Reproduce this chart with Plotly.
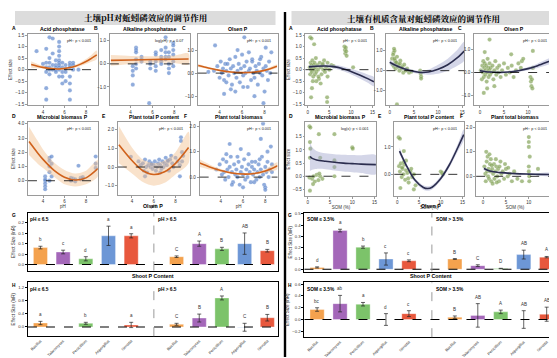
import plotly.graph_objects as go

W, H = 557, 358

# ---------------- data: left half (soil pH) ----------------
ph_acid_x = [3.4, 4.0, 4.3, 4.3, 4.3, 4.3, 4.3, 4.3, 4.6, 4.6, 4.6, 4.6, 4.6, 4.6, 4.9, 4.9, 4.9, 4.9,
             5.2, 5.2, 5.2, 5.2, 5.2, 5.5, 5.5, 5.5, 5.5, 5.5, 5.5, 5.5, 5.5, 5.5, 5.5, 5.8, 5.8, 5.8, 5.8, 5.8,
             6.1, 6.1, 6.1, 6.1, 6.5, 6.5, 6.5, 6.5, 6.5, 6.5, 6.5, 6.8, 6.8, 6.8, 7.3]
ph_acid_y = [0.8, 0.25, 0.9, 0.3, 0.1, -0.1, -0.8, -1.3, 1.4, 0.5, 0.3, 0.1, 0.0, -0.2, 1.35, 0.7, 0.2, 0.0,
             0.4, 0.2, 0.1, 0.0, -0.1, 1.2, 1.0, 0.8, 0.6, 0.4, 0.3, 0.2, 0.1, 0.0, -0.3, 0.3, 0.1, -0.1, -0.3, -0.6,
             0.2, 0.05, -0.1, -0.5, 0.3, 0.2, 0.1, -0.3, -0.6, -0.9, -1.3, 0.3, 0.2, 0.0, 0.0]
ph_acid_fx = [2.9, 3.5, 4.0, 4.5, 5.0, 5.5, 6.0, 6.5, 7.0, 7.5, 8.0, 8.5, 9.0]
ph_acid_fy = [0.22, 0.15, 0.10, 0.06, 0.04, 0.03, 0.05, 0.09, 0.15, 0.24, 0.35, 0.49, 0.64]
ph_acid_lo = [0.08, 0.06, 0.04, 0.01, -0.01, -0.02, 0.0, 0.04, 0.09, 0.16, 0.24, 0.34, 0.45]
ph_acid_hi = [0.36, 0.24, 0.16, 0.11, 0.09, 0.08, 0.10, 0.14, 0.21, 0.32, 0.46, 0.64, 0.83]

ph_alk_x = [4.2, 4.2, 4.2, 4.2, 4.5, 4.5, 4.5, 4.5, 4.5, 4.5, 5.0, 5.0, 5.0, 5.7, 5.8, 5.8, 5.8,
            6.3, 6.3, 6.3, 6.3, 6.3, 6.8, 6.8, 6.8, 6.8, 6.8, 7.2, 7.2, 7.2, 7.2, 7.2,
            7.5, 7.5, 7.5, 7.5, 7.5, 7.9, 7.9, 7.9, 7.9, 7.9, 7.9]
ph_alk_y = [-0.3, -0.5, -0.9, -0.1, 0.7, 0.6, 0.5, 0.2, 0.0, -0.2, 0.3, 0.2, 0.1, -1.7, 0.1, 0.0, -0.2,
            0.5, 0.4, 0.1, -0.1, -0.3, 0.6, 0.3, 0.2, 0.1, 0.0, 1.15, 0.7, 0.5, 0.3, 0.2,
            0.5, 0.3, 0.0, -0.2, -0.4, 0.9, 0.8, 0.6, 0.4, 0.1, -0.1]
ph_alk_fx = [2.2, 4.0, 6.0, 8.0, 9.3]
ph_alk_fy = [0.15, 0.17, 0.19, 0.20, 0.21]
ph_alk_lo = [-0.08, 0.0, 0.05, 0.04, -0.03]
ph_alk_hi = [0.38, 0.34, 0.33, 0.36, 0.45]

ph_olsen_x = [3.0, 3.5, 3.8, 4.0, 4.1, 4.2, 4.3, 4.4, 4.5, 4.6, 4.7, 4.8, 4.9, 5.0, 5.1, 5.2, 5.3, 5.4, 5.5, 5.6,
              5.7, 5.8, 5.9, 6.0, 6.1, 6.2, 6.3, 6.4, 6.5, 6.6, 6.7, 6.8, 6.9, 7.0, 7.1, 7.2, 7.3, 7.4, 7.5, 7.6,
              7.7, 7.8, 7.9, 8.0, 8.1, 8.2, 8.3, 8.4, 8.5, 8.6, 4.4, 5.0, 5.6, 6.1, 6.6, 7.1, 7.6, 8.1, 4.6, 6.9,
              6.2, 3.6, 7.9, 5.4]
ph_olsen_y = [0.05, 0.1, 0.3, -0.2, 0.5, 0.0, 0.2, -0.3, 0.4, 0.1, 0.4, -0.1, 0.6, 0.2, -0.5, 0.3, 0.0, 0.7, -0.2, 0.1,
              0.4, -0.4, 0.2, 0.8, -0.1, 0.3, 0.0, 0.5, -0.6, 0.1, 0.2, -0.3, 0.6, 0.0, -0.2, 0.3, 0.1, -0.5, 0.4, 0.0,
              0.7, -0.1, 0.2, -0.8, 0.3, 0.1, -0.3, 0.5, 0.0, 0.9, -0.9, -0.7, 1.0, -0.6, 0.9, -1.0, 0.6, 1.1, -0.4, 0.5,
              1.55, 1.2, -1.3, -0.8]
ph_olsen_fx = [2.1, 3.0, 4.0, 5.0, 6.0, 7.0, 8.0, 9.1]
ph_olsen_fy = [0.33, 0.22, 0.12, 0.05, 0.02, 0.04, 0.12, 0.30]
ph_olsen_lo = [0.26, 0.17, 0.09, 0.02, -0.01, 0.01, 0.08, 0.23]
ph_olsen_hi = [0.40, 0.27, 0.15, 0.08, 0.05, 0.07, 0.16, 0.37]

ph_mbp_x = [4.2, 4.2, 4.2, 4.2, 4.2, 4.2, 4.6, 4.6, 4.6, 4.6, 4.6, 4.8, 4.8, 4.8,
            6.6, 6.6, 6.6, 6.8, 6.8, 7.0, 7.0, 7.3, 7.5, 7.5, 7.7, 7.7, 8.9, 8.9, 8.9]
ph_mbp_y = [0.3, 0.1, 0.0, -0.2, -0.4, -0.6, 1.6, 1.4, 1.0, 0.6, 0.0, 1.7, 1.2, 0.3,
            0.2, 0.1, 0.0, 0.15, 0.05, 0.1, -0.05, 1.05, 0.2, 0.1, 0.25, 0.15, 1.7, 1.2, 0.9]
ph_mbp_fx = [2.7, 3.5, 4.0, 5.0, 6.0, 7.0, 8.0, 9.1]
ph_mbp_fy = [2.75, 1.95, 1.5, 0.75, 0.25, 0.05, 0.2, 0.85]
ph_mbp_lo = [1.8, 1.2, 0.9, 0.3, -0.25, -0.4, -0.25, 0.3]
ph_mbp_hi = [3.8, 2.8, 2.2, 1.3, 0.75, 0.5, 0.7, 1.45]

ph_tp_x = [3.9, 4.6, 4.8, 5.0, 5.1, 5.2, 5.3, 5.4, 5.5, 5.6, 5.7, 5.8, 5.9, 6.0, 6.1, 6.2, 6.3, 6.4, 6.5, 6.6, 6.7,
           6.8, 6.9, 7.0, 7.1, 7.2, 7.3, 7.4, 7.5, 7.6, 7.7, 7.8, 8.0, 8.2, 8.4, 8.5, 8.5, 8.6, 8.6, 8.7, 8.4,
           5.2, 5.8, 6.6, 7.3]
ph_tp_y = [0.55, 0.3, 0.1, 0.2, -0.2, 0.4, 0.0, -0.3, 0.1, 0.3, 0.0, 0.2, -0.1, 0.1, 0.3, -0.2, 0.0, 0.2, 0.4, 0.1, -0.1,
           0.3, 0.0, 0.2, 0.5, 0.1, 0.3, -0.2, 0.4, 0.6, 0.2, 0.0, 0.5, 0.3, 0.1, 1.6, 1.4, 0.8, 0.3, 0.6, -0.5,
           -0.5, 0.15, -0.3, 0.35]
ph_tp_fx = [2.8, 4.0, 5.0, 6.0, 7.0, 8.0, 9.2]
ph_tp_fy = [1.2, 0.35, -0.2, -0.4, -0.25, 0.2, 1.05]
ph_tp_lo = [0.2, -0.35, -0.8, -1.0, -0.85, -0.4, 0.2]
ph_tp_hi = [2.2, 1.05, 0.4, 0.2, 0.35, 0.8, 1.9]

ph_bio_x = [3.6, 3.9, 4.1, 4.2, 4.3, 4.4, 4.5, 4.6, 4.7, 4.8, 4.9, 5.0, 5.1, 5.2, 5.3, 5.4, 5.5, 5.6, 5.7, 5.8,
            5.9, 6.0, 6.1, 6.2, 6.3, 6.4, 6.5, 6.6, 6.7, 6.8, 6.9, 7.0, 7.1, 7.2, 7.3, 7.4, 7.5, 7.6, 7.7, 7.8,
            7.9, 8.0, 8.1, 8.2, 8.3, 8.4, 8.5, 8.6, 4.5, 5.0, 5.5, 6.0, 6.5, 7.0, 7.5, 8.0, 4.8, 5.8, 6.8, 7.8,
            8.2, 8.6, 8.0, 7.6]
ph_bio_y = [0.3, 0.5, 0.1, 0.7, 0.2, -0.1, 0.6, 0.3, 0.0, 0.4, 0.8, 0.2, -0.2, 0.5, 0.1, 0.3, 0.0, 0.6, -0.3, 0.2,
            0.4, 0.1, 0.7, -0.1, 0.3, 0.0, 0.5, 0.2, -0.2, 0.4, 0.1, 0.3, 0.6, -0.1, 0.2, 0.5, 0.0, 0.3, 0.8, 0.1,
            -0.3, 0.4, 0.2, 0.6, 0.0, 0.3, 1.2, 0.5, 0.9, -0.3, 0.8, -0.4, 0.9, -0.2, 0.7, -0.4, 1.3, 1.1, 0.6, 2.1,
            1.0, 0.2, -0.5, 1.5]
ph_bio_fx = [2.1, 3.0, 4.0, 5.0, 6.0, 7.0, 8.0, 9.1]
ph_bio_fy = [0.55, 0.40, 0.26, 0.16, 0.12, 0.14, 0.24, 0.45]
ph_bio_lo = [0.40, 0.30, 0.20, 0.12, 0.08, 0.10, 0.17, 0.32]
ph_bio_hi = [0.70, 0.50, 0.32, 0.20, 0.16, 0.18, 0.31, 0.58]

# ---------------- data: right half (soil organic matter) ----------------
som_acid_x = [0.5, 0.6, 0.7, 0.8, 0.9, 1.0, 1.1, 1.2, 1.3, 1.4, 1.5, 1.6, 1.7, 1.8, 1.9, 2.0, 2.2, 2.4, 2.6, 2.8,
              3.0, 3.2, 3.4, 3.6, 3.8, 4.0, 4.3, 4.6, 5.0, 5.5, 0.6, 0.8, 1.0, 1.5, 2.0, 3.0, 4.5, 4.5, 4.6,
              8.5, 8.6, 8.7, 8.8, 8.9, 9.0, 10.5, 6.0, 1.2, 0.9, 2.5, 3.5]
som_acid_y = [0.1, -0.2, 0.3, 0.0, 0.2, -0.1, 0.4, 0.1, -0.3, 0.2, 0.0, 0.3, -0.2, 0.1, 0.5, -0.1, 0.2, 0.0, -0.4, 0.3,
              0.1, -0.2, 0.2, 0.0, 0.4, -0.1, 0.1, 0.3, 0.0, 0.2, 1.4, -1.2, -0.8, 1.1, -0.5, -0.6, -1.2, -1.4, -0.3,
              1.0, 0.85, 0.7, 0.95, 0.8, 0.6, 0.1, 0.15, -0.5, 1.35, -0.3, 0.25]
som_acid_fx = [0.3, 2, 4, 6, 8, 10, 12, 14, 15.3]
som_acid_fy = [0.12, 0.15, 0.16, 0.13, 0.05, -0.08, -0.23, -0.40, -0.52]
som_acid_lo = [0.04, 0.10, 0.10, 0.05, -0.05, -0.20, -0.38, -0.58, -0.72]
som_acid_hi = [0.20, 0.20, 0.22, 0.21, 0.15, 0.04, -0.08, -0.22, -0.32]

som_alk_x = [0.5, 0.6, 0.8, 0.9, 1.0, 1.1, 1.2, 1.4, 1.5, 1.6, 1.8, 2.0, 2.2, 2.4, 2.6, 2.8, 3.0, 3.3, 3.6, 4.0,
             0.7, 1.0, 1.3, 1.7, 2.1, 2.5, 3.5, 4.5, 6.3, 6.4, 6.5, 6.5, 1.5, 0.9]
som_alk_y = [0.6, 0.3, 0.9, 0.2, 1.0, 0.5, 0.1, 0.4, 0.7, 0.2, 0.3, 0.0, 0.5, 0.1, 0.2, -0.1, 0.3, 0.0, 0.1, -0.1,
             0.8, 0.6, 0.4, 0.2, 0.35, 0.15, 0.05, -0.05, 0.0, -0.15, -0.3, -0.4, -1.7, 1.1]
som_alk_fx = [0, 2, 4, 6, 8, 10, 12, 14, 15.4]
som_alk_fy = [0.42, 0.18, 0.02, -0.08, -0.07, 0.07, 0.30, 0.65, 0.98]
som_alk_lo = [0.30, 0.10, -0.05, -0.16, -0.20, -0.15, 0.0, 0.25, 0.50]
som_alk_hi = [0.55, 0.26, 0.10, 0.0, 0.06, 0.30, 0.60, 1.05, 1.45]

som_olsen_x = [0.2, 0.4, 0.5, 0.6, 0.7, 0.8, 0.9, 1.0, 1.1, 1.2, 1.3, 1.4, 1.5, 1.6, 1.7, 1.8, 1.9, 2.0, 2.1, 2.2,
               2.4, 2.6, 2.8, 3.0, 3.2, 3.4, 3.6, 3.8, 4.0, 4.3, 4.6, 5.0, 5.4, 5.8, 6.2, 6.6, 7.0, 7.5, 8.0, 8.5,
               8.7, 9.0, 10.5, 10.6, 10.7, 10.8, 10.9, 11.0, 11.0, 11.0, 2.0, 1.5, 3.0, 0.8, 6.5, 1.0]
som_olsen_y = [0.1, -0.3, 0.3, 0.0, 0.5, -0.2, 0.2, 0.4, -0.1, 0.1, 0.3, -0.4, 0.0, 0.6, 0.2, -0.2, 0.1, 0.4, -0.1, 0.2,
               0.0, 0.3, -0.3, 0.1, 0.5, -0.1, 0.2, 0.0, 0.3, -0.2, 0.1, 0.4, -0.1, 0.2, 0.0, 0.3, -0.2, 0.1, 0.4, 0.2,
               0.5, 0.6, -0.2, -0.4, -0.6, -0.3, -0.7, 0.2, 0.95, -1.55, 1.45, -0.7, -0.6, -0.9, 0.8, 0.9]
som_olsen_fx = [0, 2, 4, 6, 8, 10, 12, 14, 15.3]
som_olsen_fy = [0.08, 0.02, 0.0, 0.02, 0.08, 0.17, 0.30, 0.46, 0.57]
som_olsen_lo = [0.02, -0.02, -0.04, -0.02, 0.03, 0.10, 0.20, 0.33, 0.42]
som_olsen_hi = [0.14, 0.06, 0.04, 0.06, 0.13, 0.24, 0.40, 0.59, 0.72]

som_mbp_x = [0.4, 0.6, 0.5, 0.6, 0.5, 0.4, 0.5, 1.0, 1.3, 1.6, 2.0, 2.4, 2.8, 3.3, 1.2, 2.6,
             2.5, 2.8, 6.0, 6.0, 6.0, 6.0, 10.0, 10.1]
som_mbp_y = [1.9, 1.85, 1.3, 1.05, 0.7, -0.05, -0.55, -0.1, 0.0, -0.2, 0.05, -0.15, 0.0, -0.1, -0.3, 0.1,
             1.6, 0.7, 1.6, 0.6, 0.35, 0.0, 1.1, 1.05]
som_mbp_fx = [0.5, 1, 2, 4, 6, 8, 10, 12, 15.3]
som_mbp_fy = [0.75, 0.68, 0.62, 0.57, 0.53, 0.50, 0.48, 0.46, 0.44]
som_mbp_lo = [0.20, 0.25, 0.28, 0.27, 0.22, 0.18, 0.15, 0.12, 0.08]
som_mbp_hi = [1.30, 1.10, 0.96, 0.87, 0.84, 0.82, 0.81, 0.80, 0.80]

som_tp_x = [0.3, 0.6, 1.5, 2.0, 0.4, 0.6, 0.8, 1.0, 1.2, 1.4, 1.6, 1.8, 2.0, 2.3, 2.6, 3.0, 3.4, 3.8, 4.2,
            0.7, 1.1, 1.5, 2.5, 3.2, 10.0, 10.3, 10.5, 3.8]
som_tp_y = [1.35, 1.3, 0.85, 0.5, 0.3, 0.1, 0.4, -0.1, 0.2, 0.0, 0.35, -0.2, 0.15, 0.05, -0.3, 0.1, -0.1, 0.0, -0.4,
            -0.5, 0.25, 0.45, -0.15, 0.2, 0.1, 0.05, 0.0, -0.55]
som_tp_fx = [0.5, 2, 4, 6, 7, 8, 10, 12, 14, 15.3]
som_tp_fy = [0.85, 0.35, -0.20, -0.48, -0.52, -0.47, -0.15, 0.35, 1.0, 1.45]
som_tp_lo = [0.73, 0.27, -0.27, -0.56, -0.60, -0.55, -0.23, 0.25, 0.86, 1.25]
som_tp_hi = [0.97, 0.43, -0.13, -0.40, -0.44, -0.39, -0.07, 0.45, 1.14, 1.65]

som_bio_x = [0.3, 0.5, 0.6, 0.8, 0.9, 1.0, 1.1, 1.2, 1.3, 1.5, 1.6, 1.7, 1.8, 2.0, 2.2, 2.4, 2.5, 2.7, 2.9, 3.1,
             3.3, 3.5, 3.8, 4.0, 4.3, 4.6, 5.0, 5.4, 5.8, 6.3, 0.7, 1.4, 2.1, 2.8, 3.6, 4.8, 6.8, 7.5,
             10.0, 10.0, 10.0, 10.0, 10.0, 10.1, 10.1, 10.2, 0.5, 1.9, 3.0, 12.0, 8.5, 5.5]
som_bio_y = [0.4, 0.1, -0.2, 0.6, 0.2, 0.8, 0.0, 0.3, -0.1, 0.5, 0.2, 0.7, -0.2, 0.3, 0.1, 0.5, -0.1, 0.2, 0.4, 0.0,
             0.3, -0.2, 0.6, 0.1, 0.2, -0.1, 0.3, 0.0, 0.1, -0.2, 1.0, 0.9, -0.3, 0.7, 0.4, 0.5, 0.2, -0.1,
             1.6, 1.4, 1.2, 0.4, 0.2, 0.0, -0.2, 0.8, 2.3, 0.45, -0.25, 0.3, -0.2, 0.35]
som_bio_fx = [0.2, 1, 2, 4, 6, 8, 10, 12, 15.3]
som_bio_fy = [0.32, 0.25, 0.20, 0.15, 0.12, 0.10, 0.09, 0.08, 0.07]
som_bio_lo = [0.25, 0.20, 0.16, 0.12, 0.09, 0.07, 0.05, 0.03, 0.01]
som_bio_hi = [0.39, 0.30, 0.24, 0.18, 0.15, 0.13, 0.13, 0.13, 0.13]

# ---------------- data: bar panels ----------------
genera = ["Bacillus", "Talaromyces", "Penicillium", "Aspergillus", "Serratia"]
bar_colors = ["#F4A24E", "#A467B9", "#7CC36A", "#6D97D6", "#E8583D"]

ph_low_olsen = [0.065, 0.048, 0.022, 0.110, 0.110]
ph_low_olsen_err = [0.005, 0.007, 0.008, 0.037, 0.008]
ph_low_olsen_let = ["b", "c", "d", "a", "a"]
ph_high_olsen = [0.030, 0.080, 0.060, 0.080, 0.053]
ph_high_olsen_err = [0.003, 0.010, 0.006, 0.041, 0.005]
ph_high_olsen_let = ["C", "A", "B", "AB", "B"]

ph_low_shoot = [0.12, None, 0.11, None, 0.06]
ph_low_shoot_err = [0.05, 0, 0.03, 0, 0.08]
ph_low_shoot_let = ["a", "", "b", "", "a"]
ph_high_shoot = [0.08, 0.27, 0.88, -0.01, 0.28]
ph_high_shoot_err = [0.03, 0.12, 0.06, 0.12, 0.10]
ph_high_shoot_let = ["C", "B", "A", "C", "B"]

som_low_olsen = [0.017, 0.35, 0.20, 0.093, 0.077]
som_low_olsen_err = [0.005, 0.012, 0.010, 0.055, 0.008]
som_low_olsen_let = ["d", "a", "b", "c", "c"]
som_high_olsen = [0.093, 0.033, 0.007, 0.133, 0.110]
som_high_olsen_err = [0.004, 0.008, 0.002, 0.040, 0.006]
som_high_olsen_let = ["B", "C", "D", "AB", "A"]

som_low_shoot = [0.17, 0.27, 0.26, 0.0, 0.10]
som_low_shoot_err = [0.03, 0.14, 0.03, 0.10, 0.05]
som_low_shoot_let = ["bc", "ab", "a", "d", "c"]
som_high_shoot = [0.04, 0.07, 0.13, 0.0, 0.09]
som_high_shoot_err = [0.02, 0.20, 0.03, 0.15, 0.12]
som_high_shoot_let = ["B", "AB", "A", "AB", "AB"]

# ---------------- figure construction ----------------
FONT = "Liberation Sans"
fig = go.Figure()
layout = {}
shapes = []
annots = []
ax_count = [0]


def new_axes(px_box, xrange, yrange, xkw=None, ykw=None):
    ax_count[0] += 1
    i = ax_count[0]
    x0, x1, y0, y1 = px_box
    xd = [x0 / W, x1 / W]
    yd = [1 - y1 / H, 1 - y0 / H]
    xk = "xaxis" if i == 1 else f"xaxis{i}"
    yk = "yaxis" if i == 1 else f"yaxis{i}"
    xr = "x" if i == 1 else f"x{i}"
    yr = "y" if i == 1 else f"y{i}"
    base = dict(showgrid=False, zeroline=False, showline=True, mirror=True,
                ticks="outside", ticklen=2, tickwidth=0.6,
                tickfont=dict(size=4.5, family=FONT, color="#333"))
    xa = dict(base, domain=xd, range=xrange, anchor=yr)
    ya = dict(base, domain=yd, range=yrange, anchor=xr)
    if xkw:
        xa.update(xkw)
    if ykw:
        ya.update(ykw)
    layout[xk] = xa
    layout[yk] = ya
    return xr, yr


def zero_line(xr, yr, color="black", width=0.9):
    shapes.append(dict(type="line", xref=f"{xr} domain", x0=0, x1=1, yref=yr, y0=0, y1=0,
                       line=dict(color=color, width=width, dash="dash"), layer="above"))


def scatter_panel(box, xrange, yrange, yticks, xticks, px, py, fx, fy, lo, hi, title, letter, ptxt,
                  dot, line, band, ytitle=None, xtitle=None):
    xkw = dict(tickvals=xticks, linecolor="#9a9a9a", linewidth=0.8, tickcolor="#9a9a9a")
    ykw = dict(tickvals=yticks, tickformat=".1f", linecolor="#9a9a9a", linewidth=0.8, tickcolor="#9a9a9a")
    if ytitle:
        ykw["title"] = dict(text=ytitle, font=dict(size=4.5, family=FONT, color="#333"), standoff=2)
    if xtitle:
        xkw["title"] = dict(text=xtitle, font=dict(size=4.5, family=FONT, color="#333"), standoff=1)
    xr, yr = new_axes(box, xrange, yrange, xkw, ykw)
    fig.add_trace(go.Scatter(x=px, y=py, mode="markers", xaxis=xr, yaxis=yr, showlegend=False,
                             marker=dict(size=4.2, color=dot, line=dict(width=0.3, color="rgba(255,255,255,0.6)")),
                             hoverinfo="skip"))
    fig.add_trace(go.Scatter(x=fx + fx[::-1], y=hi + lo[::-1], mode="lines", fill="toself", fillcolor=band,
                             line=dict(width=0, shape="spline", smoothing=0.8), xaxis=xr, yaxis=yr,
                             showlegend=False, hoverinfo="skip"))
    fig.add_trace(go.Scatter(x=fx, y=fy, mode="lines", line=dict(color=line, width=1.6, shape="spline", smoothing=0.9),
                             xaxis=xr, yaxis=yr, showlegend=False, hoverinfo="skip"))
    zero_line(xr, yr, width=0.8)
    x0, x1, y0, y1 = box
    annots.append(dict(x=(x0 + x1) / 2 / W, y=1 - (y0 - 1) / H, xref="paper", yref="paper", text=f"<b>{title}</b>",
                       showarrow=False, xanchor="center", yanchor="bottom", borderpad=0,
                       font=dict(size=5.2, family=FONT, color="black")))
    annots.append(dict(x=(x0 - 17) / W, y=1 - (y0 - 2) / H, xref="paper", yref="paper", text=f"<b>{letter}</b>",
                       showarrow=False, xanchor="left", yanchor="bottom", borderpad=0,
                       font=dict(size=5, family=FONT, color="black")))
    annots.append(dict(x=(x1 - 5) / W, y=1 - (y0 + 7) / H, xref="paper", yref="paper", text=ptxt,
                       showarrow=False, xanchor="right", yanchor="middle",
                       font=dict(size=3.8, family=FONT, color="#222")))


BLUE = "rgba(92,132,204,0.68)"
GREEN = "rgba(128,160,84,0.68)"
ORANGE = "#D0621C"
NAVY = "#2B2D4E"
BAND_O = "rgba(242,190,140,0.45)"
BAND_N = "rgba(160,164,205,0.45)"
PH_TICKS = [4, 6, 8]
SOM_TICKS = [0, 5, 10, 15]
P1 = "pH²: p < 0.001"

# left scatter panels
scatter_panel((20, 90, 25, 97), [2.6, 9.1], [-1.55, 1.55], [-1.5, -1.0, -0.5, 0, 0.5, 1.0, 1.5], PH_TICKS,
              ph_acid_x, ph_acid_y, ph_acid_fx, ph_acid_fy, ph_acid_lo, ph_acid_hi,
              "Acid phosphatase", "A", P1, BLUE, ORANGE, BAND_O, ytitle="Effect size")
scatter_panel((102, 182, 25, 97), [2.1, 9.4], [-1.8, 1.3], [-1, 0, 1], PH_TICKS,
              ph_alk_x, ph_alk_y, ph_alk_fx, ph_alk_fy, ph_alk_lo, ph_alk_hi,
              "Alkaline phosphatase", "B", "log(pH): p = 0.07", BLUE, ORANGE, BAND_O)
scatter_panel((190, 270, 25, 97), [2.05, 9.15], [-1.4, 1.7], [-1, 0, 1], PH_TICKS,
              ph_olsen_x, ph_olsen_y, ph_olsen_fx, ph_olsen_fy, ph_olsen_lo, ph_olsen_hi,
              "Olsen P", "C", P1, BLUE, ORANGE, BAND_O)
scatter_panel((20, 90, 114, 187), [2.6, 9.1], [-1.0, 4.1], [0, 1, 2, 3, 4], PH_TICKS,
              ph_mbp_x, ph_mbp_y, ph_mbp_fx, ph_mbp_fy, ph_mbp_lo, ph_mbp_hi,
              "Microbial biomass P", "D", P1, BLUE, ORANGE, BAND_O, ytitle="Effect size", xtitle="pH")
scatter_panel((110, 182, 114, 187), [2.7, 9.3], [-1.5, 2.4], [-1, 0, 1, 2], PH_TICKS,
              ph_tp_x, ph_tp_y, ph_tp_fx, ph_tp_fy, ph_tp_lo, ph_tp_hi,
              "Plant total P content", "E", P1, BLUE, ORANGE, BAND_O, xtitle="pH")
scatter_panel((192, 270, 114, 187), [2.1, 9.1], [-0.7, 2.15], [0, 1, 2], PH_TICKS,
              ph_bio_x, ph_bio_y, ph_bio_fx, ph_bio_fy, ph_bio_lo, ph_bio_hi,
              "Plant total biomass", "F", P1, BLUE, ORANGE, BAND_O, xtitle="pH")

# right scatter panels
scatter_panel((298, 367, 25, 97), [-0.5, 15.4], [-1.55, 1.55], [-1.5, -1.0, -0.5, 0, 0.5, 1.0, 1.5], SOM_TICKS,
              som_acid_x, som_acid_y, som_acid_fx, som_acid_fy, som_acid_lo, som_acid_hi,
              "Acid phosphatase", "A", P1, GREEN, NAVY, BAND_N, ytitle="Effect size")
scatter_panel((379, 457, 25, 97), [-0.7, 15.4], [-1.75, 1.85], [-1, 0, 1], SOM_TICKS,
              som_alk_x, som_alk_y, som_alk_fx, som_alk_fy, som_alk_lo, som_alk_hi,
              "Alkaline phosphatase", "B", P1, GREEN, NAVY, BAND_N)
scatter_panel((467, 547, 25, 97), [-1.2, 15.4], [-1.45, 1.7], [-1, 0, 1], SOM_TICKS,
              som_olsen_x, som_olsen_y, som_olsen_fx, som_olsen_fy, som_olsen_lo, som_olsen_hi,
              "Olsen P", "C", P1, GREEN, NAVY, BAND_N)
scatter_panel((298, 369, 114, 188), [-0.5, 15.4], [-0.75, 2.05], [-0.5, 0, 0.5, 1.0, 1.5], SOM_TICKS,
              som_mbp_x, som_mbp_y, som_mbp_fx, som_mbp_fy, som_mbp_lo, som_mbp_hi,
              "Microbial biomass P", "D", "log(x): p < 0.001", GREEN, NAVY, BAND_N,
              ytitle="Effect size", xtitle="SOM (%)")
scatter_panel((387, 457, 114, 188), [-0.7, 15.4], [-0.79, 1.9], [0, 1], SOM_TICKS,
              som_tp_x, som_tp_y, som_tp_fx, som_tp_fy, som_tp_lo, som_tp_hi,
              "Plant total P content", "E", P1, GREEN, NAVY, BAND_N, xtitle="SOM (%)")
scatter_panel((469, 547, 114, 188), [-1.5, 15.5], [-0.8, 2.2], [0, 1, 2], SOM_TICKS,
              som_bio_x, som_bio_y, som_bio_fx, som_bio_fy, som_bio_lo, som_bio_hi,
              "Plant total biomass", "F", P1, GREEN, NAVY, BAND_N, xtitle="SOM (%)")

# bar panels
left_pos = [i for i in range(len(genera))]
right_pos = [i + len(genera) + 1 for i in range(len(genera))]


def bar_panel(box, yrange, yticks, low, low_err, low_let, high, high_err, high_let, lab_low, lab_high,
              title, letter, show_x):
    xkw = dict(range=[-0.55, 10.45], linecolor="black", linewidth=1, tickcolor="black",
               tickvals=left_pos + right_pos, ticktext=genera + genera if show_x else [""] * 10,
               ticks="", tickangle=-45, tickfont=dict(size=3.9, family=FONT, color="#333"))
    ykw = dict(tickvals=yticks, tickformat=".1f", linecolor="black", linewidth=1, tickcolor="black",
               tickfont=dict(size=4.2, family=FONT, color="#333"),
               title=dict(text="Effect Size (lnR)", font=dict(size=4.5, family=FONT, color="#333"), standoff=2))
    xr, yr = new_axes(box, [-0.55, 10.45], yrange, xkw, ykw)
    for pos, vals, errs, lets in ((left_pos, low, low_err, low_let), (right_pos, high, high_err, high_let)):
        fig.add_trace(go.Bar(x=pos, y=vals, xaxis=xr, yaxis=yr, width=0.62, showlegend=False,
                             marker=dict(color=bar_colors, line=dict(width=0.5, color="rgba(255,255,255,0.7)")),
                             error_y=dict(type="data", array=errs, color="#222", thickness=0.7, width=2),
                             hoverinfo="skip"))
        for p, v, e, t in zip(pos, vals, errs, lets):
            if v is None or not t:
                continue
            annots.append(dict(x=p, y=v + e, xref=xr, yref=yr, text=t, showarrow=False,
                               yanchor="bottom", yshift=2, font=dict(size=4.5, family=FONT, color="#333")))
    zero_line(xr, yr, width=1.1)
    shapes.append(dict(type="line", xref=xr, x0=5, x1=5, yref=f"{yr} domain", y0=0, y1=1,
                       line=dict(color="#9a9a9a", width=1, dash="dash")))
    annots.append(dict(x=-0.5, y=1, xref=xr, yref=f"{yr} domain", text=f"<b>{lab_low}</b>", showarrow=False,
                       xanchor="left", yanchor="top", yshift=-3.5, borderpad=0,
                       font=dict(size=4.8, family=FONT, color="black")))
    annots.append(dict(x=5.15, y=1, xref=xr, yref=f"{yr} domain", text=f"<b>{lab_high}</b>", showarrow=False,
                       xanchor="left", yanchor="top", yshift=-3.5, borderpad=0,
                       font=dict(size=4.8, family=FONT, color="black")))
    x0, x1, y0, y1 = box
    annots.append(dict(x=(x0 + x1) / 2 / W, y=1 - (y0 - 6.5) / H, xref="paper", yref="paper", text=f"<b>{title}</b>",
                       showarrow=False, xanchor="center", yanchor="middle", borderpad=0,
                       font=dict(size=5.3, family=FONT, color="black")))
    annots.append(dict(x=(x0 - 18) / W, y=1 - (y0 + 3) / H, xref="paper", yref="paper", text=f"<b>{letter}</b>",
                       showarrow=False, xanchor="left", yanchor="middle",
                       font=dict(size=4.8, family=FONT, color="black")))


bar_panel((20, 270, 205, 263), [-0.023, 0.198], [0.0, 0.04, 0.08, 0.12, 0.16],
          ph_low_olsen, ph_low_olsen_err, ph_low_olsen_let, ph_high_olsen, ph_high_olsen_err, ph_high_olsen_let,
          "pH ≤ 6.5", "pH > 6.5", "Olsen P", "G", False)
bar_panel((20, 270, 275, 329), [-0.28, 1.35], [0.0, 0.4, 0.8, 1.2],
          ph_low_shoot, ph_low_shoot_err, ph_low_shoot_let, ph_high_shoot, ph_high_shoot_err, ph_high_shoot_let,
          "pH ≤ 6.5", "pH > 6.5", "Shoot P Content", "H", True)
bar_panel((297, 550, 205, 264), [-0.02, 0.51], [0.0, 0.1, 0.2, 0.3, 0.4, 0.5],
          som_low_olsen, som_low_olsen_err, som_low_olsen_let, som_high_olsen, som_high_olsen_err, som_high_olsen_let,
          "SOM ≤ 3.5%", "SOM > 3.5%", "Olsen P", "G", False)
bar_panel((297, 550, 275, 330), [-0.3, 0.63], [-0.2, 0.0, 0.2, 0.4, 0.6],
          som_low_shoot, som_low_shoot_err, som_low_shoot_let, som_high_shoot, som_high_shoot_err, som_high_shoot_let,
          "SOM ≤ 3.5%", "SOM > 3.5%", "Shoot P Content", "H", True)

# headers and the central divider
for (x0, x1, txt) in ((7, 268, "土壤pH对蚯蚓磷效应的调节作用"), (284, 548, "土壤有机质含量对蚯蚓磷效应的调节作用")):
    shapes.append(dict(type="rect", xref="paper", yref="paper", x0=x0 / W, x1=x1 / W, y0=1 - 16 / H, y1=1 - 2 / H,
                       fillcolor="#DCDCDC", line=dict(width=0), layer="below"))
    annots.append(dict(x=(x0 + x1) / 2 / W, y=1 - 9 / H, xref="paper", yref="paper", text=f"<b>{txt}</b>",
                       showarrow=False, xanchor="center", yanchor="middle",
                       font=dict(size=8.5, family="Noto Serif CJK SC, Noto Sans CJK SC", color="black")))
shapes.append(dict(type="line", xref="paper", yref="paper", x0=277.5 / W, x1=277.5 / W, y0=1 - 3 / H, y1=1 - 350 / H,
                   line=dict(color="black", width=2.4)))

fig.update_layout(width=W, height=H, margin=dict(l=0, r=0, t=0, b=0), paper_bgcolor="white",
                  plot_bgcolor="white", showlegend=False, shapes=shapes, annotations=annots, bargap=0.3, **layout)
fig.write_html("out.html")
